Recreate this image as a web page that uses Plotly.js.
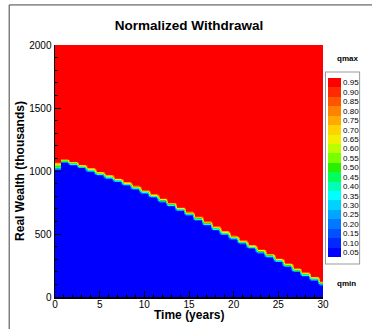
<!DOCTYPE html>
<html>
<head>
<meta charset="utf-8">
<script src="https://cdn.plot.ly/plotly-3.0.1.min.js"></script>
<style>html,body{margin:0;padding:0;background:#fff;}#chart{width:372px;height:329px;}</style>
</head>
<body>
<div id="chart"></div>
<script>
// Time grid (years)
var years = [0,1,2,3,4,5,6,7,8,9,10,11,12,13,14,15,16,17,18,19,20,21,22,23,24,25,26,27,28,29,30];
// Boundary between qmin (blue) and qmax (red), real wealth in thousands, read per year
var boundary = [1040,1082,1062,1038,1010,982,956,929,900,869,837,804,770,736,700,664,625,586,547,510,474,437,400,365,330,294,256,216,182,148,110];
// Width of the colour transition band at each year (thousands)
var bandWidth = [80,40,40,40,40,40,40,40,40,40,40,40,40,40,40,40,40,40,40,40,40,40,40,40,40,40,40,40,40,40,40];
// Wealth grid (thousands)
var wealth = [];
for (var w = 0; w <= 2000; w += 5) wealth.push(w);
// Colour bar levels and colours (bottom to top)
var levels = [0.05,0.10,0.15,0.20,0.25,0.30,0.35,0.40,0.45,0.50,0.55,0.60,0.65,0.70,0.75,0.80,0.85,0.90,0.95];
var levelColors = ['#0000ff','#0028ff','#0050ff','#0078ff','#00a5ff','#00d2ff','#00ffff','#00ffb4','#00ff5a','#28f000','#78ff00','#b9ff00','#f0f000','#ffd200','#ffaa00','#ff8200','#ff5500','#ff2a00','#ff0000'];

// Each yearly value is held flat over a short span around its year (stair-step look)
var xs = [], cols = [];
years.forEach(function (t, j) {
  var a = Math.max(0, t - 0.3), b = Math.min(30, t + (j === 0 ? 0.65 : 0.3));
  xs.push(a); cols.push(j);
  if (b > a) { xs.push(b); cols.push(j); }
});

var z = wealth.map(function (wv) {
  return cols.map(function (j) {
    var lo = boundary[j] - bandWidth[j] / 2, hi = boundary[j] + bandWidth[j] / 2;
    if (wv <= lo) return 0;
    if (wv >= hi) return 1;
    return (wv - lo) / (hi - lo);
  });
});

var n = levelColors.length;
var colorscale = [];
levelColors.forEach(function (c, i) {
  colorscale.push([i / n, c]);
  colorscale.push([(i + 1) / n, c]);
});

var FONT = 'Liberation Sans, Arial, Helvetica, sans-serif';

var trace = {
  type: 'heatmap',
  x: xs, y: wealth, z: z,
  zmin: 0.025, zmax: 0.975,
  colorscale: colorscale,
  zsmooth: 'best',
  hoverinfo: 'skip',
  colorbar: {
    x: 1.011, xanchor: 'left', xpad: 2,
    y: 0.514, yanchor: 'middle', ypad: 6,
    len: 0.758, lenmode: 'fraction',
    thickness: 13,
    tickmode: 'array',
    tickvals: levels,
    ticktext: levels.map(function (v) { return v.toFixed(2); }),
    ticks: '',
    tickfont: {family: FONT, size: 8, color: '#000'},
    outlinewidth: 0,
    bordercolor: '#999', borderwidth: 1, bgcolor: '#fff'
  }
};

var layout = {
  width: 372, height: 329,
  margin: {l: 55, r: 42, t: 45, b: 32},
  paper_bgcolor: '#fff', plot_bgcolor: '#fff',
  font: {family: FONT, color: '#000'},
  title: {text: '<b>Normalized Withdrawal</b>', font: {family: FONT, size: 13.5, color: '#000'},
          x: 0.5, xref: 'paper', y: 0.924, yref: 'container', yanchor: 'middle'},
  xaxis: {
    range: [0, 30], dtick: 5, tick0: 0,
    ticks: 'inside', ticklen: 6, tickwidth: 1, tickcolor: '#000',
    minor: {dtick: 1, ticks: 'inside', ticklen: 3, tickcolor: '#000'},
    showline: true, linecolor: '#000', linewidth: 1.5,
    showgrid: false, zeroline: false,
    ticklabelstandoff: -3,
    tickfont: {family: FONT, size: 10, color: '#000'},
    automargin: false
  },
  yaxis: {
    range: [0, 2000], dtick: 500, tick0: 0,
    ticks: 'inside', ticklen: 6, tickwidth: 1, tickcolor: '#000',
    minor: {dtick: 100, ticks: 'inside', ticklen: 3, tickcolor: '#000'},
    showline: true, linecolor: '#000', linewidth: 1.5,
    showgrid: false, zeroline: false,
    tickfont: {family: FONT, size: 10, color: '#000'},
    title: {text: '<b>Real Wealth (thousands)</b>', font: {family: FONT, size: 12, color: '#000'}, standoff: 2},
    automargin: false
  },
  annotations: [
    {text: '<b>Time (years)</b>', xref: 'paper', yref: 'paper', x: 0.5, y: (297 - 315) / 252, xanchor: 'center', yanchor: 'middle',
     showarrow: false, font: {family: FONT, size: 12, color: '#000'}},
    {text: '<b>qmax</b>', xref: 'paper', yref: 'paper', x: 1.046, y: (297 - 58) / 252, xanchor: 'left', yanchor: 'middle',
     showarrow: false, font: {family: FONT, size: 8, color: '#000'}},
    {text: '<b>qmin</b>', xref: 'paper', yref: 'paper', x: 1.046, y: (297 - 283) / 252, xanchor: 'left', yanchor: 'middle',
     showarrow: false, font: {family: FONT, size: 8, color: '#000'}}
  ],
  shapes: [
    {type: 'line', xref: 'paper', yref: 'paper', x0: -0.171, x1: 1.3, y0: 1.159, y1: 1.159, line: {color: '#444', width: 1}},
    {type: 'line', xref: 'paper', yref: 'paper', x0: -0.171, x1: -0.171, y0: 1.159, y1: -0.2, line: {color: '#444', width: 1}}
  ]
};

Plotly.newPlot('chart', [trace], layout, {displayModeBar: false, staticPlot: true});
</script>
</body>
</html>
